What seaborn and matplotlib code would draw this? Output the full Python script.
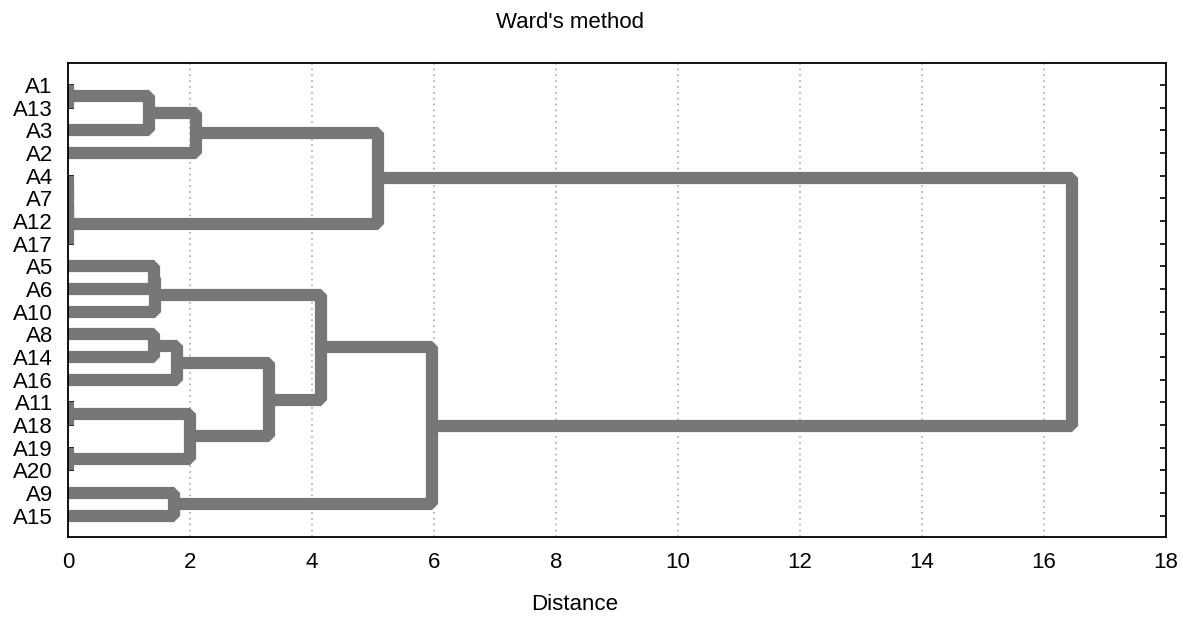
import pandas as pd
import numpy as np
import matplotlib
matplotlib.use('Agg')
import matplotlib.pyplot as plt
import seaborn as sns

sns.set_style('white')
plt.rcParams['font.family'] = ['Liberation Sans', 'DejaVu Sans']
plt.rcParams['text.color'] = 'black'
plt.rcParams['xtick.color'] = 'black'
plt.rcParams['ytick.color'] = 'black'

# leaves, top to bottom
leaves = ['A1', 'A13', 'A3', 'A2', 'A4', 'A7', 'A12', 'A17', 'A5', 'A6',
          'A10', 'A8', 'A14', 'A16', 'A11', 'A18', 'A19', 'A20', 'A9', 'A15']

# merges: names are leaves, 'cN' is the cluster made by merge N (0-based)
merge_left = ['A1', 'c0', 'c1', 'A4', 'c3', 'c4', 'c2', 'A5', 'c7', 'A8',
              'c9', 'A11', 'A19', 'c11', 'c10', 'c8', 'A9', 'c15', 'c6']
merge_right = ['A13', 'A3', 'A2', 'A7', 'A12', 'A17', 'c5', 'A6', 'A10', 'A14',
               'A16', 'A18', 'A20', 'c12', 'c13', 'c14', 'A15', 'c16', 'c17']
merge_height = [0.0, 1.33, 2.10, 0.0, 0.0, 0.0, 5.08, 1.41, 1.43, 1.41,
                1.79, 0.0, 0.0, 2.0, 3.30, 4.15, 1.73, 5.97, 16.46]

pos = {name: (0.0, float(i)) for i, name in enumerate(leaves)}
rows = []
for k, (a, b, h) in enumerate(zip(merge_left, merge_right, merge_height)):
    xa, ya = pos[a]
    xb, yb = pos[b]
    for j, (x, y) in enumerate([(xa, ya), (h, ya), (h, yb), (xb, yb)]):
        rows.append({'link': k, 'order': j, 'x': x, 'y': y})
    pos['c%d' % k] = (h, (ya + yb) / 2)
links = pd.DataFrame(rows)

fig = plt.figure(figsize=(11.83, 6.17), dpi=100)
ax = fig.add_axes([0.0575, 0.13, 0.928, 0.768])

sns.lineplot(data=links, x='x', y='y', units='link', estimator=None,
             sort=False, color='#777777', linewidth=8.8,
             solid_joinstyle='bevel', solid_capstyle='butt', ax=ax)

ax.set_xlim(0, 18)
ax.set_ylim(19.93, -0.97)
ax.set_xticks(np.arange(0, 19, 2))
ax.set_yticks(range(len(leaves)))
ax.set_yticklabels(leaves)
ax.grid(axis='x', color='#aaaaaa', linestyle=(0, (1, 2.5)), linewidth=1.2)
ax.grid(axis='y', visible=False)
for s in ax.spines.values():
    s.set_color('black')
    s.set_linewidth(1.3)
    s.set_visible(True)
ax.tick_params(axis='y', direction='in', left=True, right=True, length=4,
               width=1.2, color='black', labelcolor='black', labelsize=16, pad=11)
ax.tick_params(axis='x', length=0, labelsize=16, labelcolor='black', pad=11)
ax.set_xlabel('')
ax.set_ylabel('')

fig.text(570 / 1183, 1 - 22 / 617, "Ward's method", ha='center', va='center', fontsize=16)
fig.text(575 / 1183, 1 - 604 / 617, 'Distance', ha='center', va='center', fontsize=16)

fig.savefig('out.png', dpi=100)
